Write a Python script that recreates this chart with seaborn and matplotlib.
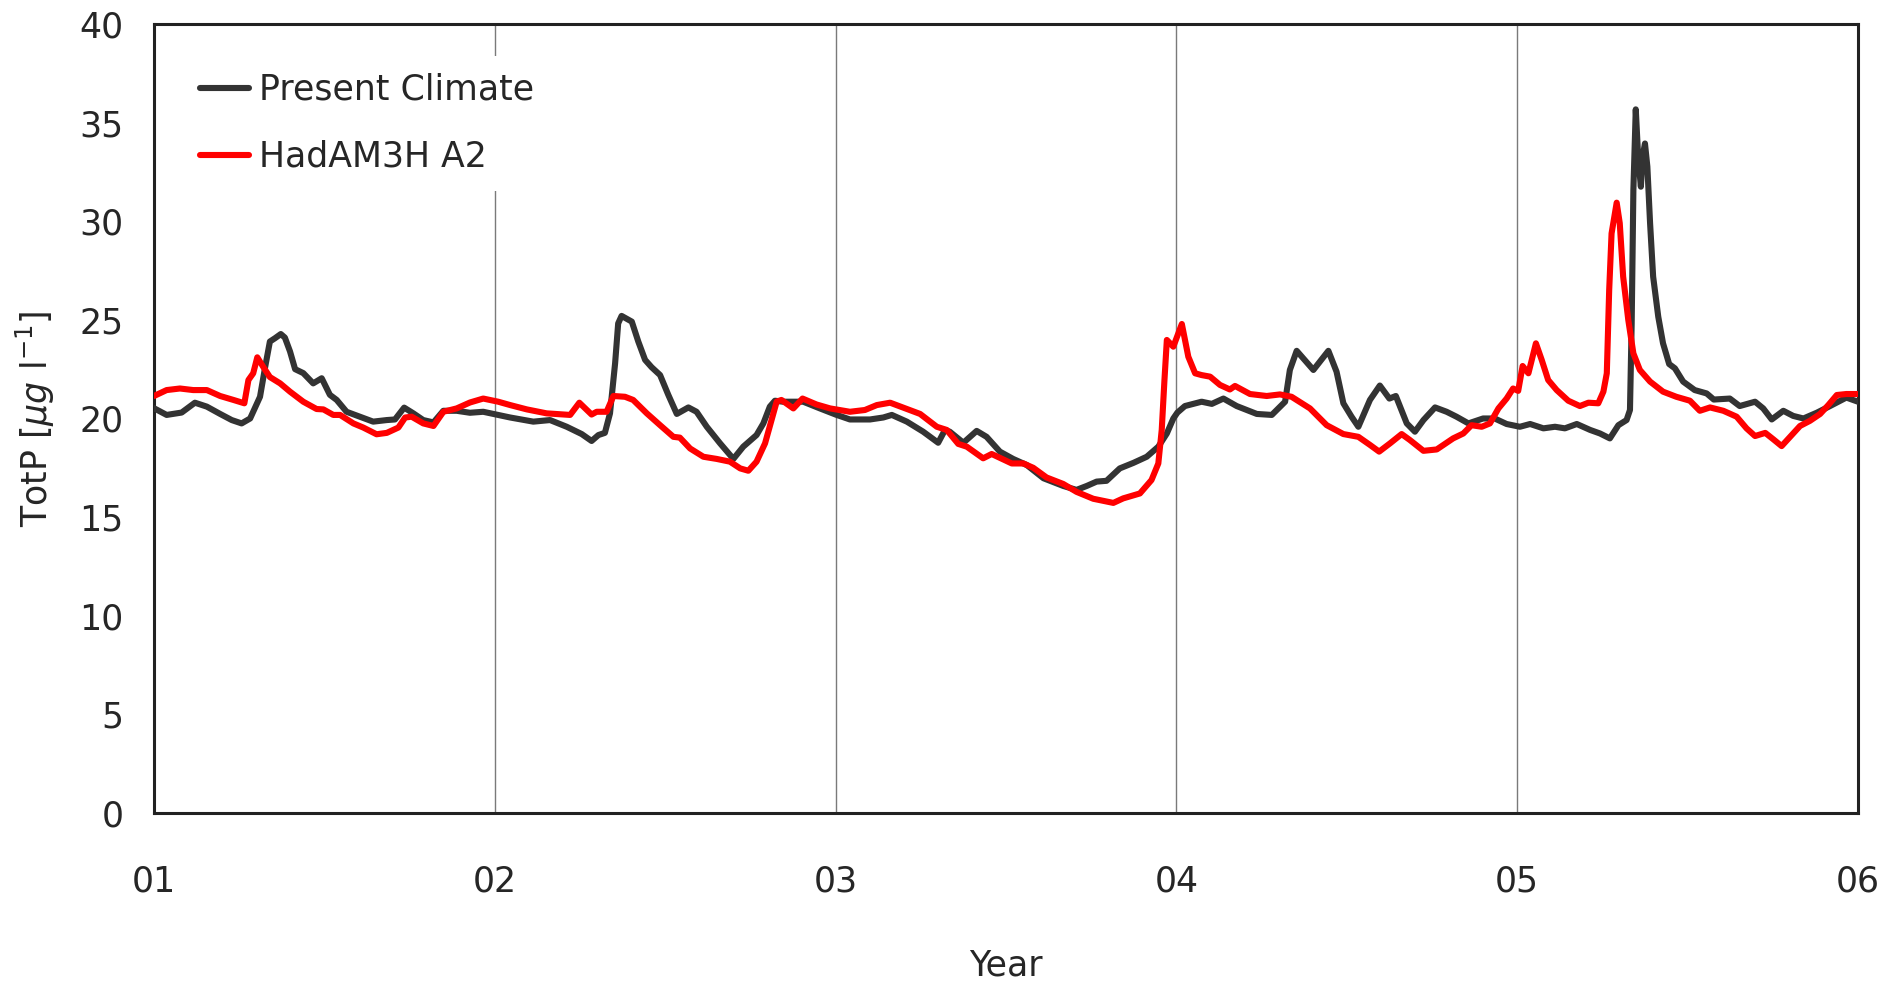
import matplotlib
matplotlib.use("Agg")
import matplotlib.pyplot as plt
import seaborn as sns
import pandas as pd

# Simulated total phosphorus, time in fractional years
present_t = [1.000, 1.037, 1.081, 1.120, 1.155, 1.194, 1.228, 1.257, 1.282, 1.311,
             1.326, 1.340, 1.355, 1.372, 1.384, 1.399, 1.414, 1.438, 1.467, 1.492,
             1.516, 1.536, 1.565, 1.604, 1.643, 1.683, 1.707, 1.734, 1.761, 1.790,
             1.820, 1.849, 1.888, 1.927, 1.966, 2.010, 2.045, 2.113, 2.162, 2.211,
             2.255, 2.284, 2.304, 2.323, 2.338, 2.353, 2.362, 2.372, 2.402, 2.421,
             2.441, 2.460, 2.485, 2.509, 2.534, 2.568, 2.592, 2.622, 2.661, 2.700,
             2.729, 2.768, 2.788, 2.807, 2.822, 2.846, 2.905, 2.954, 3.000, 3.042,
             3.101, 3.140, 3.165, 3.209, 3.257, 3.301, 3.321, 3.335, 3.375, 3.414,
             3.443, 3.482, 3.521, 3.561, 3.610, 3.668, 3.707, 3.737, 3.766, 3.795,
             3.834, 3.874, 3.913, 3.947, 3.972, 3.991, 4.003, 4.025, 4.074, 4.104,
             4.138, 4.177, 4.236, 4.280, 4.319, 4.333, 4.353, 4.402, 4.446, 4.470,
             4.490, 4.514, 4.534, 4.568, 4.597, 4.625, 4.644, 4.676, 4.700, 4.725,
             4.759, 4.793, 4.822, 4.857, 4.900, 4.934, 4.969, 5.008, 5.038, 5.077,
             5.111, 5.140, 5.175, 5.214, 5.243, 5.272, 5.297, 5.321, 5.331, 5.336,
             5.341, 5.348, 5.355, 5.363, 5.368, 5.375, 5.382, 5.390, 5.399, 5.414,
             5.428, 5.446, 5.463, 5.487, 5.521, 5.556, 5.577, 5.624, 5.653, 5.698,
             5.722, 5.747, 5.781, 5.810, 5.840, 5.879, 5.918, 5.966, 6.000]
present_v = [20.52, 20.18, 20.30, 20.80, 20.60, 20.23, 19.92, 19.75, 20.00, 21.10,
             22.60, 23.90, 24.07, 24.28, 24.10, 23.40, 22.50, 22.30, 21.78, 22.04,
             21.20, 20.94, 20.34, 20.09, 19.84, 19.92, 19.95, 20.55, 20.26, 19.92,
             19.80, 20.39, 20.39, 20.29, 20.34, 20.18, 20.05, 19.84, 19.92, 19.58,
             19.21, 18.86, 19.16, 19.27, 20.26, 22.80, 24.82, 25.20, 24.91, 23.90,
             22.97, 22.60, 22.20, 21.20, 20.23, 20.56, 20.34, 19.58, 18.74, 17.95,
             18.57, 19.16, 19.75, 20.60, 20.90, 20.85, 20.85, 20.51, 20.20, 19.95,
             19.95, 20.05, 20.18, 19.84, 19.33, 18.77, 19.42, 19.33, 18.77, 19.37,
             19.07, 18.32, 17.95, 17.64, 16.97, 16.58, 16.38, 16.58, 16.80, 16.84,
             17.47, 17.75, 18.06, 18.57, 19.24, 20.00, 20.30, 20.63, 20.85, 20.74,
             21.01, 20.63, 20.23, 20.18, 20.85, 22.46, 23.43, 22.46, 23.43, 22.37,
             20.77, 20.09, 19.58, 20.94, 21.67, 21.01, 21.14, 19.75, 19.33, 19.92,
             20.56, 20.34, 20.09, 19.75, 20.00, 20.00, 19.72, 19.58, 19.72, 19.50,
             19.58, 19.50, 19.72, 19.42, 19.24, 18.99, 19.66, 19.92, 20.43, 24.82,
             31.58, 35.67, 33.27, 31.75, 33.27, 33.94, 32.77, 29.90, 27.19, 25.16,
             23.81, 22.76, 22.54, 21.87, 21.44, 21.27, 20.96, 21.01, 20.63, 20.85,
             20.51, 19.95, 20.39, 20.13, 20.00, 20.29, 20.63, 21.06, 20.85]

a2_t = [1.000, 1.037, 1.076, 1.115, 1.155, 1.194, 1.233, 1.265, 1.277, 1.291,
        1.303, 1.321, 1.340, 1.370, 1.399, 1.438, 1.477, 1.497, 1.526, 1.546,
        1.585, 1.614, 1.653, 1.683, 1.717, 1.737, 1.756, 1.790, 1.820, 1.849,
        1.888, 1.927, 1.966, 2.010, 2.045, 2.094, 2.152, 2.221, 2.248, 2.284,
        2.299, 2.328, 2.348, 2.382, 2.406, 2.446, 2.485, 2.524, 2.543, 2.573,
        2.612, 2.651, 2.690, 2.720, 2.744, 2.768, 2.793, 2.812, 2.827, 2.841,
        2.876, 2.903, 2.944, 2.984, 3.042, 3.086, 3.121, 3.160, 3.199, 3.248,
        3.297, 3.326, 3.360, 3.385, 3.433, 3.458, 3.517, 3.551, 3.580, 3.619,
        3.668, 3.707, 3.756, 3.815, 3.844, 3.893, 3.927, 3.947, 3.957, 3.965,
        3.972, 3.991, 4.016, 4.035, 4.055, 4.074, 4.099, 4.128, 4.157, 4.172,
        4.216, 4.265, 4.304, 4.338, 4.392, 4.441, 4.490, 4.534, 4.568, 4.595,
        4.627, 4.661, 4.685, 4.725, 4.764, 4.812, 4.842, 4.866, 4.896, 4.920,
        4.945, 4.969, 4.988, 5.003, 5.016, 5.033, 5.055, 5.072, 5.091, 5.116,
        5.150, 5.184, 5.209, 5.238, 5.253, 5.263, 5.270, 5.277, 5.292, 5.301,
        5.311, 5.326, 5.341, 5.360, 5.390, 5.428, 5.467, 5.507, 5.536, 5.566,
        5.605, 5.644, 5.673, 5.698, 5.728, 5.752, 5.776, 5.801, 5.830, 5.859,
        5.889, 5.913, 5.938, 5.966, 6.000]
a2_v = [21.14, 21.44, 21.52, 21.44, 21.44, 21.14, 20.94, 20.77, 21.95, 22.29,
        23.10, 22.60, 22.10, 21.78, 21.36, 20.85, 20.48, 20.46, 20.18, 20.18,
        19.75, 19.54, 19.20, 19.27, 19.54, 20.05, 20.09, 19.75, 19.62, 20.34,
        20.51, 20.81, 21.01, 20.85, 20.68, 20.46, 20.26, 20.18, 20.80, 20.20,
        20.34, 20.34, 21.14, 21.10, 20.94, 20.26, 19.66, 19.07, 19.03, 18.48,
        18.06, 17.95, 17.81, 17.47, 17.35, 17.81, 18.74, 19.92, 20.85, 20.94,
        20.51, 21.01, 20.71, 20.51, 20.34, 20.43, 20.68, 20.80, 20.55, 20.23,
        19.58, 19.42, 18.71, 18.57, 17.98, 18.20, 17.72, 17.72, 17.50, 17.01,
        16.68, 16.28, 15.93, 15.72, 15.95, 16.20, 16.88, 17.72, 19.42, 21.95,
        23.98, 23.64, 24.79, 23.13, 22.29, 22.20, 22.12, 21.70, 21.47, 21.65,
        21.24, 21.14, 21.22, 21.10, 20.51, 19.66, 19.21, 19.07, 18.66, 18.32,
        18.74, 19.21, 18.91, 18.36, 18.43, 18.99, 19.24, 19.66, 19.58, 19.75,
        20.51, 21.01, 21.52, 21.40, 22.66, 22.29, 23.81, 22.97, 21.95, 21.44,
        20.90, 20.63, 20.80, 20.77, 21.36, 22.29, 26.51, 29.38, 30.94, 29.90,
        27.19, 25.00, 23.30, 22.46, 21.87, 21.36, 21.10, 20.90, 20.39, 20.56,
        20.39, 20.09, 19.50, 19.11, 19.27, 18.94, 18.60, 19.07, 19.62, 19.88,
        20.23, 20.68, 21.19, 21.24, 21.24]

series_names = ["Present Climate", "HadAM3H A2"]
series_colors = ["#333333", "#ff0000"]
year_ticks = [1, 2, 3, 4, 5, 6]
year_labels = ["01", "02", "03", "04", "05", "06"]
y_ticks = [0, 5, 10, 15, 20, 25, 30, 35, 40]

df = pd.concat([
    pd.DataFrame({"Year": present_t, "TotP": present_v, "run": series_names[0]}),
    pd.DataFrame({"Year": a2_t, "TotP": a2_v, "run": series_names[1]}),
], ignore_index=True)

sns.set_style("white")
plt.rcParams["font.family"] = ["DejaVu Sans"]

fig = plt.figure(figsize=(18.83, 9.82), dpi=100)
ax = fig.add_axes([0.0818, 0.1721, 0.9049, 0.8035])

for name, color in zip(series_names, series_colors):
    sub = df[df["run"] == name]
    sns.lineplot(x=sub["Year"].to_numpy(), y=sub["TotP"].to_numpy(), ax=ax,
                 color=color, linewidth=4.4, label=name, sort=False,
                 estimator=None, zorder=3, solid_joinstyle="round",
                 solid_capstyle="round")

ax.set_xlim(1, 6)
ax.set_ylim(0, 40)
ax.set_xticks(year_ticks)
ax.set_xticklabels(year_labels)
ax.set_yticks(y_ticks)

# vertical year separators
for xv in year_ticks:
    ax.axvline(xv, color="#7a7a7a", linewidth=1.0, zorder=1)

ax.tick_params(axis="y", direction="in", length=10, width=1.2, color="#555555",
               labelsize=25, pad=22)
ax.tick_params(axis="x", length=0, labelsize=25, pad=37)

for side in ["left", "bottom", "top", "right"]:
    ax.spines[side].set_visible(True)
    ax.spines[side].set_color("#222222")
    ax.spines[side].set_linewidth(2.2)

ax.set_xlabel("Year", fontsize=25, labelpad=36)
ax.set_ylabel(r"TotP [$\mu g$ l$^{-1}$]", fontsize=25, labelpad=16)

leg = ax.legend(loc="upper left", bbox_to_anchor=(0.017, 0.96), borderaxespad=0,
                fontsize=25, frameon=True, facecolor="white", edgecolor="none",
                framealpha=1.0, handlelength=1.4, handletextpad=0.3,
                labelspacing=0.95, borderpad=0.5)
for h in leg.get_lines():
    h.set_linewidth(4.4)
leg.set_zorder(5)

fig.savefig("out.png", dpi=100)
